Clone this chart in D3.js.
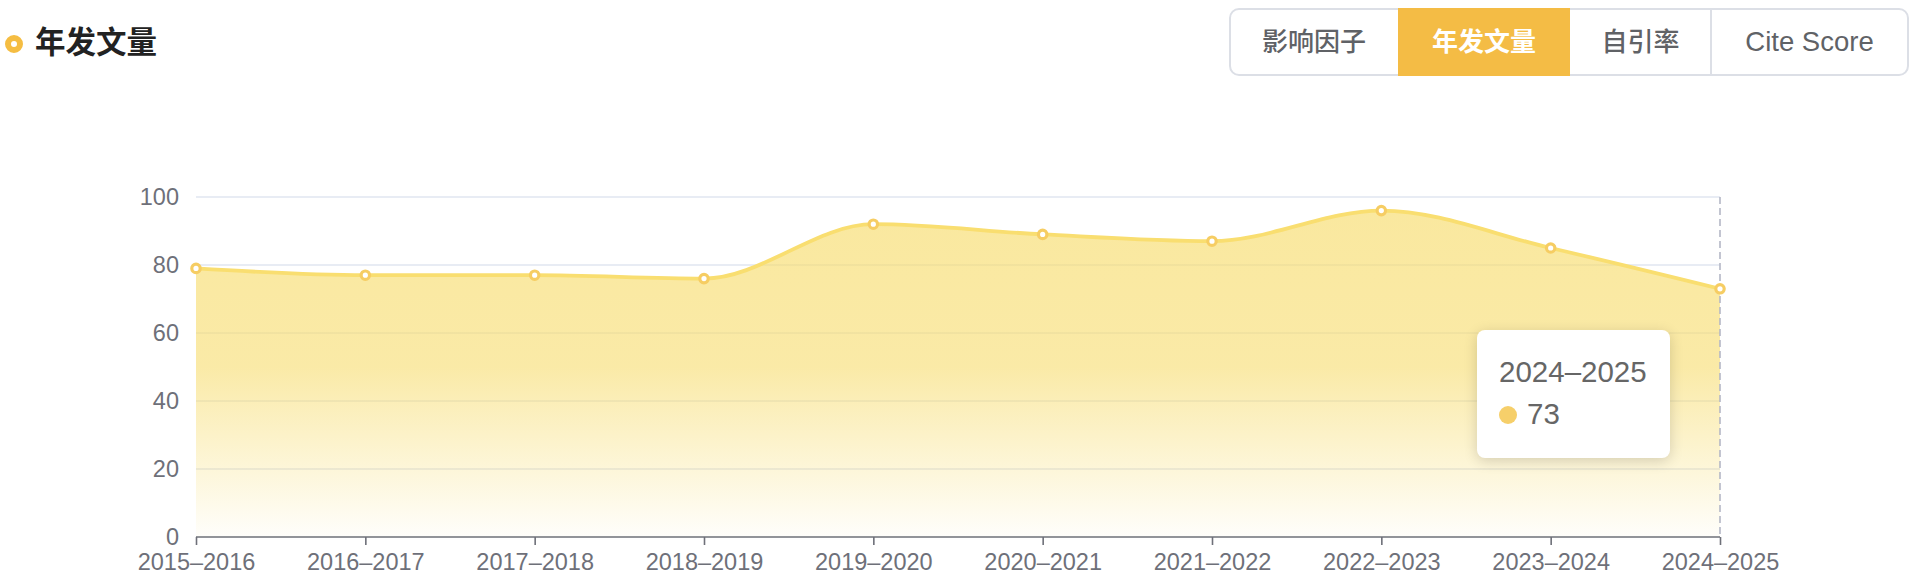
<!DOCTYPE html>
<html>
<head>
<meta charset="utf-8">
<script src="https://cdn.jsdelivr.net/npm/d3@7/dist/d3.min.js"></script>
<style>
  html, body { margin: 0; padding: 0; background: #fff; width: 1918px; height: 582px; overflow: hidden; }
  body { position: relative; font-family: "Liberation Sans", "Noto Sans CJK SC", sans-serif; }
  svg { position: absolute; left: 0; top: 0; }
  #tip {
    position: absolute; background: #fff; border-radius: 8px;
    box-shadow: 0 3px 14px rgba(0,0,0,0.16);
    font-family: "Liberation Sans", "Noto Sans CJK SC", sans-serif; color: #666;
  }
</style>
</head>
<body>
<svg id="chart" width="1918" height="582"></svg>
<div id="tip"></div>
<script>
const title = "年发文量";
const tabs = ["影响因子", "年发文量", "自引率", "Cite Score"];
const activeTab = "年发文量";
const categories = ["2015–2016", "2016–2017", "2017–2018", "2018–2019", "2019–2020",
                    "2020–2021", "2021–2022", "2022–2023", "2023–2024", "2024–2025"];
const values = [79, 77, 77, 76, 92, 89, 87, 96, 85, 73];
const yTicks = [0, 20, 40, 60, 80, 100];
const highlighted = "2024–2025";

const svg = d3.select("#chart");
const x = d3.scalePoint().domain(categories).range([196, 1720]);
const y = d3.scaleLinear().domain([0, 100]).range([537, 197]);

// Title
svg.append("circle").attr("cx", 14).attr("cy", 44).attr("r", 6)
  .attr("fill", "#fff").attr("stroke", "#f5bd42").attr("stroke-width", 6);
svg.append("text").attr("x", 35).attr("y", 53).text(title)
  .attr("font-family", "Noto Sans CJK SC").attr("font-weight", 700)
  .attr("font-size", 30.5).attr("fill", "#222");

// Tabs
const tabX = [1230, 1398, 1570, 1711, 1908];
const tabG = svg.append("g");
tabG.append("rect").attr("x", 1230).attr("y", 9).attr("width", 1908 - 1230).attr("height", 66)
  .attr("rx", 9).attr("fill", "#fff").attr("stroke", "#dcdfe6").attr("stroke-width", 2);
tabs.forEach((t, i) => {
  const x0 = tabX[i], x1 = tabX[i + 1];
  if (t === activeTab) {
    tabG.append("rect").attr("x", x0).attr("y", 8).attr("width", x1 - x0).attr("height", 68).attr("fill", "#f4bc45");
  }
  if (i > 0 && tabs[i - 1] !== activeTab && t !== activeTab) {
    tabG.append("line").attr("x1", x0).attr("x2", x0).attr("y1", 10).attr("y2", 74)
      .attr("stroke", "#dcdfe6").attr("stroke-width", 2);
  }
  const latin = /[A-Za-z]/.test(t);
  tabG.append("text").attr("x", (x0 + x1) / 2).attr("y", 51).attr("text-anchor", "middle")
    .text(t)
    .attr("font-family", latin ? "Liberation Sans" : "Noto Sans CJK SC")
    .attr("font-weight", t === activeTab ? 700 : 500)
    .attr("font-size", latin ? 27.5 : 26)
    .attr("fill", t === activeTab ? "#fff" : "#606266");
});

// Grid lines
svg.append("g").selectAll("line").data(yTicks.filter(d => d > 0)).join("line")
  .attr("x1", 196).attr("x2", 1720).attr("y1", d => y(d)).attr("y2", d => y(d))
  .attr("stroke", "#e0e6f1").attr("stroke-width", 1.6);

// Gradient
const defs = svg.append("defs");
const grad = defs.append("linearGradient").attr("id", "areaGrad")
  .attr("gradientUnits", "userSpaceOnUse").attr("x1", 0).attr("x2", 0)
  .attr("y1", y(100)).attr("y2", y(0));
grad.append("stop").attr("offset", 0).attr("stop-color", "#f7dc6c").attr("stop-opacity", 0.66);
grad.append("stop").attr("offset", 0.5).attr("stop-color", "#f7dc6c").attr("stop-opacity", 0.6);
grad.append("stop").attr("offset", 1).attr("stop-color", "#f7dc6c").attr("stop-opacity", 0.03);

const data = categories.map((c, i) => ({ c, v: values[i] }));
const area = d3.area().x(d => x(d.c)).y0(y(0)).y1(d => y(d.v)).curve(d3.curveMonotoneX);
const line = d3.line().x(d => x(d.c)).y(d => y(d.v)).curve(d3.curveMonotoneX);

svg.append("path").datum(data).attr("d", area).attr("fill", "url(#areaGrad)");

// Axis pointer (dashed)
svg.append("line").attr("x1", x(highlighted)).attr("x2", x(highlighted))
  .attr("y1", y(100)).attr("y2", y(0))
  .attr("stroke", "#b4b7c6").attr("stroke-width", 1.6).attr("stroke-dasharray", "7,4");

svg.append("path").datum(data).attr("d", line).attr("fill", "none")
  .attr("stroke", "#f9de70").attr("stroke-width", 3.8);

svg.append("g").selectAll("circle").data(data).join("circle")
  .attr("cx", d => x(d.c)).attr("cy", d => y(d.v)).attr("r", 4.2)
  .attr("fill", "#fff").attr("stroke", "#f6cd63").attr("stroke-width", 3.2);

// Axes
const xAxis = svg.append("g").attr("transform", `translate(0,${y(0)})`)
  .call(d3.axisBottom(x).tickSize(8).tickSizeOuter(0).tickPadding(8));
xAxis.select(".domain").attr("stroke", "#6e7079").attr("stroke-width", 1.6)
  .attr("d", `M${x.range()[0]},0H${x.range()[1]}`);
xAxis.selectAll(".tick line").attr("stroke", "#6e7079").attr("stroke-width", 1.6);
xAxis.selectAll(".tick text").attr("fill", "#6e7079").attr("font-size", 23.5)
  .attr("font-family", "Liberation Sans");

const yAxis = svg.append("g").attr("transform", "translate(196,0)")
  .call(d3.axisLeft(y).tickValues(yTicks).tickSize(0).tickPadding(17));
yAxis.select(".domain").remove();
yAxis.selectAll(".tick text").attr("fill", "#6e7079").attr("font-size", 23.5)
  .attr("font-family", "Liberation Sans");

// Tooltip
const hv = values[categories.indexOf(highlighted)];
const tip = d3.select("#tip").style("left", "1477px").style("top", "330px")
  .style("width", "193px").style("height", "128px");
const tsvg = tip.append("svg").attr("width", 193).attr("height", 128);
tsvg.append("text").attr("x", 22).attr("y", 52).text(highlighted)
  .attr("font-size", 29.5).attr("fill", "#666").attr("font-family", "Liberation Sans");
tsvg.append("circle").attr("cx", 31).attr("cy", 85).attr("r", 9).attr("fill", "#f6cf6a");
tsvg.append("text").attr("x", 50).attr("y", 94).text(hv)
  .attr("font-size", 29.5).attr("fill", "#666").attr("font-family", "Liberation Sans");
</script>
</body>
</html>
